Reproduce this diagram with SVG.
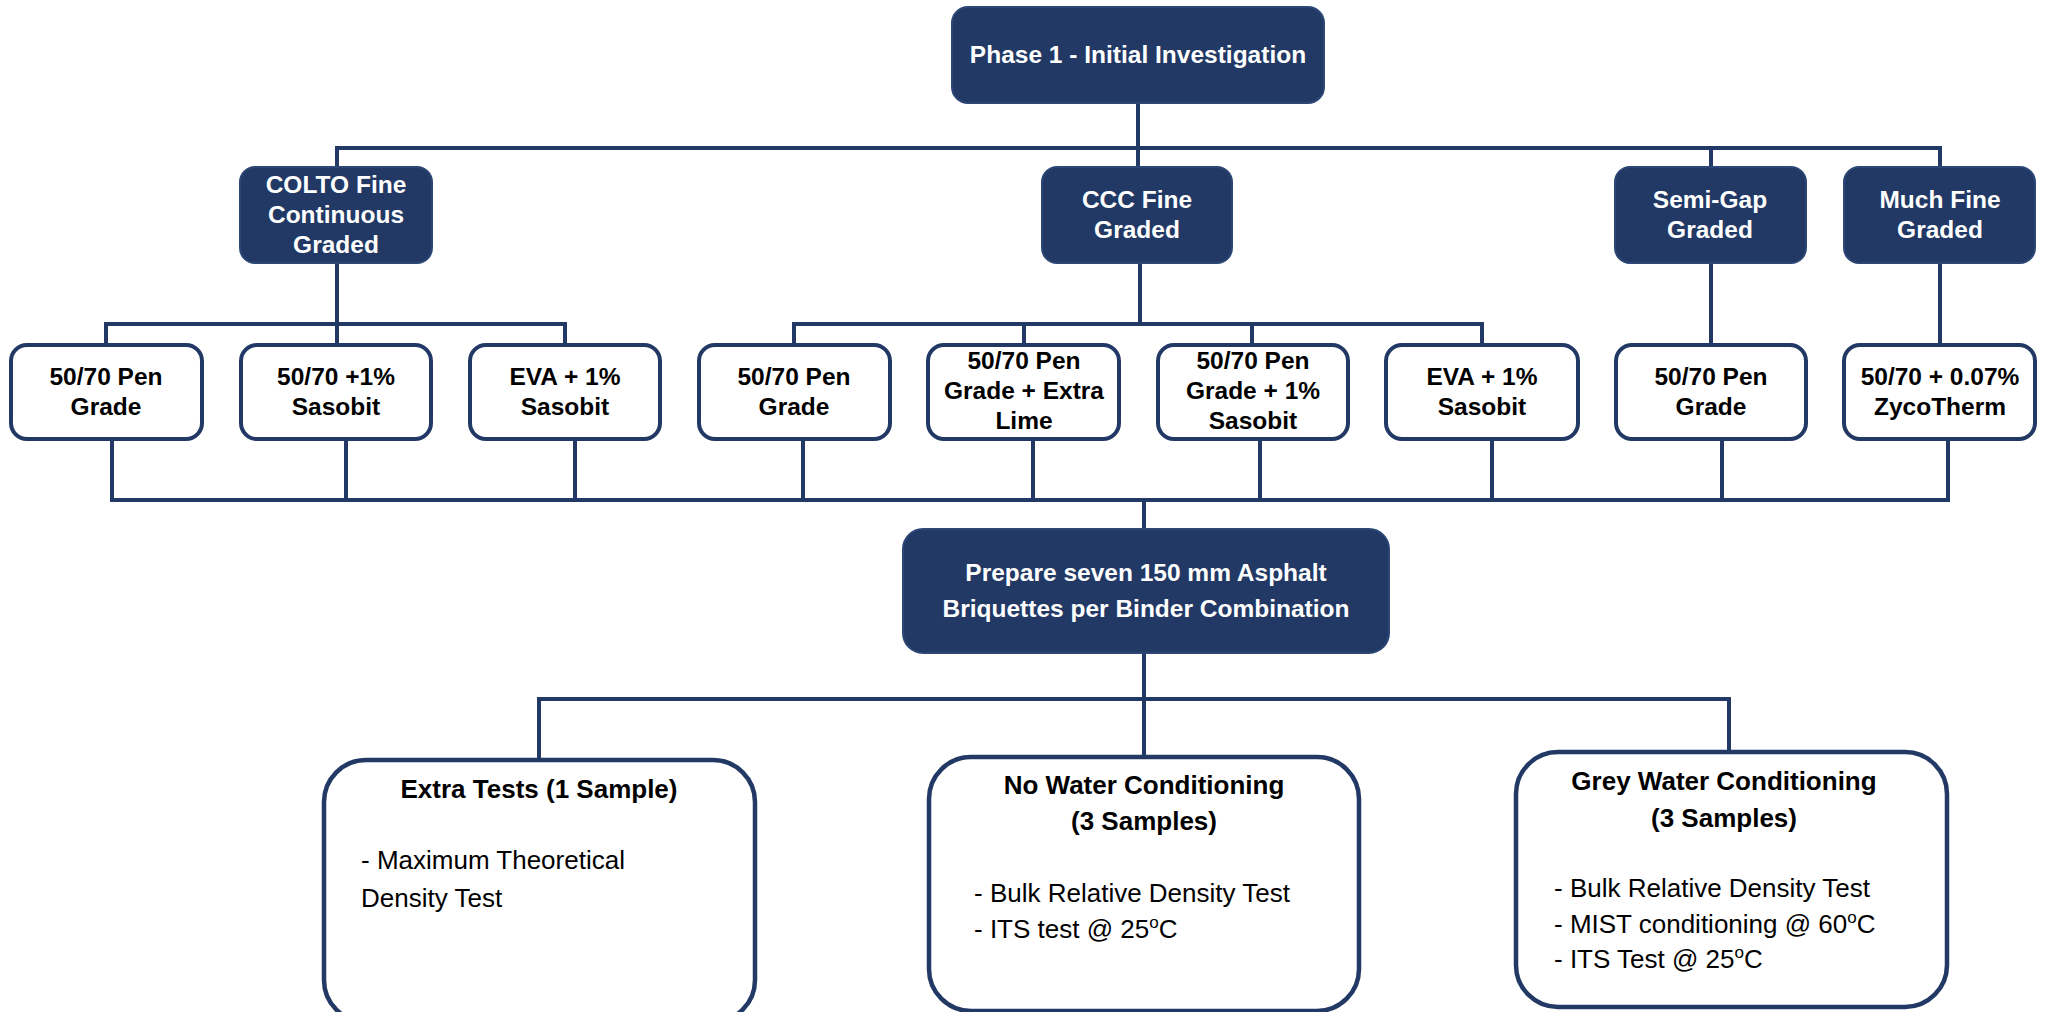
<svg xmlns="http://www.w3.org/2000/svg" width="2046" height="1012" viewBox="0 0 2046 1012">
  <style>
    .dark { fill: #213964; stroke: #2c4675; stroke-width: 2; }
    .light { fill: #ffffff; stroke: #213964; stroke-width: 4; }
    .big { fill: #ffffff; stroke: #213964; stroke-width: 4.5; }
    .wire { fill: none; stroke: #213964; stroke-width: 4; stroke-linecap: butt; }
    text { font-family: "Liberation Sans", Arial, sans-serif; }
    .wt { fill: #ffffff; font-weight: bold; font-size: 24.5px; text-anchor: middle; }
    .bt { fill: #000000; font-weight: bold; font-size: 24.5px; text-anchor: middle; }
    .ht { fill: #000000; font-weight: bold; font-size: 26px; text-anchor: middle; }
    .rt { fill: #000000; font-size: 26px; }
  </style>
  <rect width="2046" height="1012" fill="#ffffff"/>

  <!-- connectors -->
  <g id="connectors" class="wire">
    <!-- phase to aggregate gradings -->
    <line x1="1138" y1="103" x2="1138" y2="167"/>
    <line x1="335" y1="148" x2="1942" y2="148"/>
    <line x1="337" y1="146" x2="337" y2="167"/>
    <line x1="1711" y1="148" x2="1711" y2="167"/>
    <line x1="1940" y1="146" x2="1940" y2="167"/>
    <!-- COLTO branch -->
    <line x1="337" y1="263" x2="337" y2="345"/>
    <line x1="104" y1="324" x2="567" y2="324"/>
    <line x1="106" y1="322" x2="106" y2="345"/>
    <line x1="565" y1="322" x2="565" y2="345"/>
    <!-- CCC branch -->
    <line x1="1140" y1="263" x2="1140" y2="324"/>
    <line x1="792" y1="324" x2="1484" y2="324"/>
    <line x1="794" y1="322" x2="794" y2="345"/>
    <line x1="1024" y1="324" x2="1024" y2="345"/>
    <line x1="1252" y1="324" x2="1252" y2="345"/>
    <line x1="1482" y1="322" x2="1482" y2="345"/>
    <!-- Semi-Gap and Much Fine branches -->
    <line x1="1711" y1="263" x2="1711" y2="343"/>
    <line x1="1940" y1="263" x2="1940" y2="343"/>
    <!-- binders to briquette preparation -->
    <line x1="112" y1="439" x2="112" y2="502"/>
    <line x1="346" y1="437" x2="346" y2="500"/>
    <line x1="575" y1="439" x2="575" y2="500"/>
    <line x1="803" y1="439" x2="803" y2="500"/>
    <line x1="1033" y1="439" x2="1033" y2="500"/>
    <line x1="1260" y1="439" x2="1260" y2="500"/>
    <line x1="1492" y1="439" x2="1492" y2="500"/>
    <line x1="1722" y1="439" x2="1722" y2="500"/>
    <line x1="1948" y1="439" x2="1948" y2="502"/>
    <line x1="110" y1="500" x2="1950" y2="500"/>
    <line x1="1144" y1="500" x2="1144" y2="529"/>
    <!-- briquettes to test sets -->
    <line x1="1144" y1="653" x2="1144" y2="757"/>
    <line x1="537" y1="699" x2="1731" y2="699"/>
    <line x1="539" y1="697" x2="539" y2="760"/>
    <line x1="1729" y1="697" x2="1729" y2="752"/>
  </g>

  <g id="phase1">
    <rect class="dark" x="952" y="7" width="372" height="96" rx="16"/>
    <text class="wt" x="1138" y="63">Phase 1 - Initial Investigation</text>
  </g>

  <g id="colto">
    <rect class="dark" x="240" y="167" width="192" height="96" rx="15"/>
    <text class="wt" x="336" y="193">COLTO Fine</text>
    <text class="wt" x="336" y="223">Continuous</text>
    <text class="wt" x="336" y="253">Graded</text>
  </g>
  <g id="ccc">
    <rect class="dark" x="1042" y="167" width="190" height="96" rx="15"/>
    <text class="wt" x="1137" y="208">CCC Fine</text>
    <text class="wt" x="1137" y="238">Graded</text>
  </g>
  <g id="semigap">
    <rect class="dark" x="1615" y="167" width="191" height="96" rx="15"/>
    <text class="wt" x="1710" y="208">Semi-Gap</text>
    <text class="wt" x="1710" y="238">Graded</text>
  </g>
  <g id="muchfine">
    <rect class="dark" x="1844" y="167" width="191" height="96" rx="15"/>
    <text class="wt" x="1940" y="208">Much Fine</text>
    <text class="wt" x="1940" y="238">Graded</text>
  </g>

  <!-- binder combinations -->
  <g id="colto-pen">
    <rect class="light" x="11" y="345" width="191" height="94" rx="16"/>
    <text class="bt" x="106" y="385">50/70 Pen</text>
    <text class="bt" x="106" y="415">Grade</text>
  </g>
  <g id="colto-sasobit">
    <rect class="light" x="241" y="345" width="190" height="94" rx="16"/>
    <text class="bt" x="336" y="385">50/70 +1%</text>
    <text class="bt" x="336" y="415">Sasobit</text>
  </g>
  <g id="colto-eva">
    <rect class="light" x="470" y="345" width="190" height="94" rx="16"/>
    <text class="bt" x="565" y="385">EVA + 1%</text>
    <text class="bt" x="565" y="415">Sasobit</text>
  </g>
  <g id="ccc-pen">
    <rect class="light" x="699" y="345" width="191" height="94" rx="16"/>
    <text class="bt" x="794" y="385">50/70 Pen</text>
    <text class="bt" x="794" y="415">Grade</text>
  </g>
  <g id="ccc-lime">
    <rect class="light" x="928" y="345" width="191" height="94" rx="16"/>
    <text class="bt" x="1024" y="369">50/70 Pen</text>
    <text class="bt" x="1024" y="399">Grade + Extra</text>
    <text class="bt" x="1024" y="429">Lime</text>
  </g>
  <g id="ccc-sasobit">
    <rect class="light" x="1158" y="345" width="190" height="94" rx="16"/>
    <text class="bt" x="1253" y="369">50/70 Pen</text>
    <text class="bt" x="1253" y="399">Grade + 1%</text>
    <text class="bt" x="1253" y="429">Sasobit</text>
  </g>
  <g id="ccc-eva">
    <rect class="light" x="1386" y="345" width="192" height="94" rx="16"/>
    <text class="bt" x="1482" y="385">EVA + 1%</text>
    <text class="bt" x="1482" y="415">Sasobit</text>
  </g>
  <g id="semigap-pen">
    <rect class="light" x="1616" y="345" width="190" height="94" rx="16"/>
    <text class="bt" x="1711" y="385">50/70 Pen</text>
    <text class="bt" x="1711" y="415">Grade</text>
  </g>
  <g id="muchfine-zycotherm">
    <rect class="light" x="1844" y="345" width="191" height="94" rx="16"/>
    <text class="bt" x="1940" y="385">50/70 + 0.07%</text>
    <text class="bt" x="1940" y="415">ZycoTherm</text>
  </g>

  <g id="briquettes">
    <rect class="dark" x="903" y="529" width="486" height="124" rx="20"/>
    <text class="wt" x="1146" y="581" font-size="25">Prepare seven 150 mm Asphalt</text>
    <text class="wt" x="1146" y="617" font-size="25">Briquettes per Binder Combination</text>
  </g>

  <!-- test sets -->
  <g id="extra-tests">
    <rect class="big" x="324" y="760" width="431" height="262" rx="42"/>
    <text class="ht" x="539" y="798">Extra Tests (1 Sample)</text>
    <text class="rt" x="361" y="869">- Maximum Theoretical</text>
    <text class="rt" x="361" y="907">Density Test</text>
  </g>
  <g id="no-water">
    <rect class="big" x="929" y="757" width="430" height="254" rx="42"/>
    <text class="ht" x="1144" y="794">No Water Conditioning</text>
    <text class="ht" x="1144" y="830">(3 Samples)</text>
    <text class="rt" x="974" y="902">- Bulk Relative Density Test</text>
    <text class="rt" x="974" y="938">- ITS test @ 25<tspan dy="-10" font-size="17">o</tspan><tspan dy="10">C</tspan></text>
  </g>
  <g id="grey-water">
    <rect class="big" x="1516" y="752" width="431" height="255" rx="42"/>
    <text class="ht" x="1724" y="790">Grey Water Conditioning</text>
    <text class="ht" x="1724" y="827">(3 Samples)</text>
    <text class="rt" x="1554" y="897">- Bulk Relative Density Test</text>
    <text class="rt" x="1554" y="933">- MIST conditioning @ 60<tspan dy="-10" font-size="17">o</tspan><tspan dy="10">C</tspan></text>
    <text class="rt" x="1554" y="968">- ITS Test @ 25<tspan dy="-10" font-size="17">o</tspan><tspan dy="10">C</tspan></text>
  </g>
</svg>
